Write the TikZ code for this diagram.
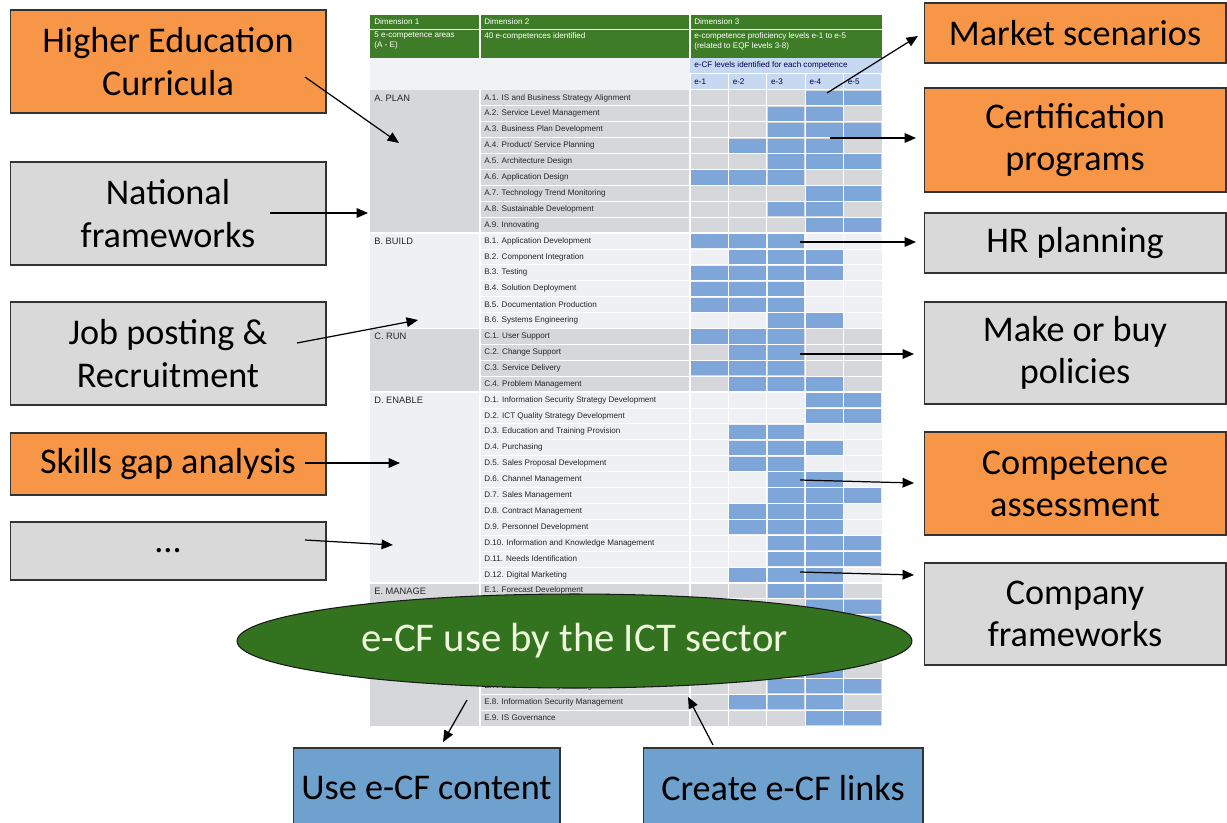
\documentclass[tikz,border=0pt]{standalone}
\usepackage{fontspec}
\setmainfont{Carlito}
\newfontfamily\tabfont{Liberation Sans}
\usetikzlibrary{arrows.meta,shapes.geometric}

\definecolor{boxorange}{HTML}{F79646}
\definecolor{boxgray}{HTML}{D9D9D9}
\definecolor{boxblue}{HTML}{6FA1CF}
\definecolor{hdrgreen}{HTML}{3F7C28}
\definecolor{ovalgreen}{HTML}{33731F}
\definecolor{ovaltext}{HTML}{EEF6DC}
\definecolor{hdrblue}{HTML}{C6D9F0}
\definecolor{hdrpale}{HTML}{F1F2F4}
\definecolor{secgray}{HTML}{D5D7DA}
\definecolor{seclight}{HTML}{EEF0F3}
\definecolor{cellblue}{HTML}{7EA6D8}

\tikzset{
  box/.style={draw=black!80, line width=0.6pt, align=center, inner sep=0pt,
    font=\fontsize{20.6}{24}\selectfont},
  orangebox/.style={box, fill=boxorange},
  graybox/.style={box, fill=boxgray},
  bluebox/.style={box, fill=boxblue},
  hdrtext/.style={anchor=west, text=white, inner sep=0pt, align=left,
    font=\tabfont\fontsize{4.6}{5.6}\selectfont},
  seclabel/.style={anchor=west, inner sep=0pt, text=black!85,
    font=\tabfont\fontsize{5.3}{6}\selectfont},
  rowlabel/.style={anchor=west, inner sep=0pt, text=black!85,
    font=\tabfont\fontsize{4.6}{5.5}\selectfont},
  arr/.style={-{Triangle[length=6.5pt,width=5.5pt]}, line width=0.7pt},
}

\begin{document}
\begin{tikzpicture}[x=0.02cm, y=-0.02cm]
\useasboundingbox (0,0) rectangle (1227,822);
\fill[white] (0,0) rectangle (1227,822);

% ---- e-CF table ----
\def\rh{15.9}
\def\cw{38.4}
% header rows
\fill[hdrgreen] (370,15) rectangle (882,58);
\draw[white, line width=0.5pt] (370,29.5) -- (882,29.5);
\foreach \xx in {480,690}
  \draw[white, line width=0.6pt] (\xx,15) -- (\xx,58);
\fill[hdrpale] (370,58) rectangle (690,90);
\fill[hdrblue] (690,58) rectangle (882,72.6);
\node[hdrtext] (dim1) at (374,22) {Dimension 1};
\node[hdrtext] (dim2) at (484,22) {Dimension 2};
\node[hdrtext] (dim3) at (694,22) {Dimension 3};
\node[hdrtext, anchor=north west] (areas) at (374,32) {5 e-competence areas\\(A - E)};
\node[hdrtext, anchor=north west] (comps) at (484,32) {40 e-competences identified};
\node[hdrtext, anchor=north west] (profs) at (694,32) {e-competence proficiency levels e-1 to e-5\\(related to EQF levels 3-8)};
\node[hdrtext, text=blue!35!black] (ident) at (694,65.5) {e-CF levels identified for each competence};
\foreach \k in {1,...,5} {
  \fill[hdrblue] ({690+(\k-1)*\cw+0.6},73.6) rectangle ({690+\k*\cw-0.6},89.4);
  \node[hdrtext, text=blue!35!black] (lev\k) at ({690+(\k-1)*\cw+4},81.5) {e-\k};
}

% competence areas
\foreach \first/\last/\col in {0/9/secgray,9/15/seclight,15/19/secgray,19/31/seclight,31/40/secgray}
  \fill[\col] (370,{90+\first*\rh}) rectangle (882,{90+\last*\rh});
\foreach \first/\name in {0/A. PLAN,9/B. BUILD,15/C. RUN,19/D. ENABLE,31/E. MANAGE}
  \node[seclabel] (sec\first) at (374,{90+(\first+0.5)*\rh}) {\name};

% competences with their levels (E.2 to E.6 sit under the oval)
\foreach \lab/\lo/\hi [count=\n from 0] in {
  A.1. IS and Business Strategy Alignment/4/5,
  A.2. Service Level Management/3/4,
  A.3. Business Plan Development/3/5,
  {A.4. Product/ Service Planning}/2/4,
  A.5. Architecture Design/3/5,
  A.6. Application Design/1/3,
  A.7. Technology Trend Monitoring/4/5,
  A.8. Sustainable Development/3/4,
  A.9. Innovating/4/5,
  B.1. Application Development/1/3,
  B.2. Component Integration/2/4,
  B.3. Testing/1/4,
  B.4. Solution Deployment/1/3,
  B.5. Documentation Production/1/3,
  B.6. Systems Engineering/3/4,
  C.1. User Support/1/3,
  C.2. Change Support/2/3,
  C.3. Service Delivery/1/3,
  C.4. Problem Management/2/4,
  D.1. Information Security Strategy Development/4/5,
  D.2. ICT Quality Strategy Development/4/5,
  D.3. Education and Training Provision/2/3,
  D.4. Purchasing/2/4,
  D.5. Sales Proposal Development/2/3,
  D.6. Channel Management/3/4,
  D.7. Sales Management/3/5,
  D.8. Contract Management/2/4,
  D.9. Personnel Development/2/4,
  D.10. Information and Knowledge Management/3/5,
  D.11. Needs Identification/3/5,
  D.12. Digital Marketing/2/4,
  E.1. Forecast Development/3/4,
  {}/4/5,
  {}/3/5,
  {}/3/4,
  {}/3/4,
  {}/2/4,
  E.7. Business Change Management/3/5,
  E.8. Information Security Management/2/4,
  E.9. IS Governance/4/5} {
  \node[rowlabel] (row\n) at (484,{90+(\n+0.5)*\rh}) {\lab};
  \foreach \k in {\lo,...,\hi}
    \fill[cellblue] ({690+(\k-1)*\cw+0.8},{90+\n*\rh+0.8})
      rectangle ({690+\k*\cw-0.8},{90+(\n+1)*\rh-0.8});
}
% white grid
\foreach \n in {1,...,39}
  \draw[white, line width=0.5pt] (480,{90+\n*\rh}) -- (882,{90+\n*\rh});
\foreach \n in {9,15,19,31}
  \draw[white, line width=0.8pt] (370,{90+\n*\rh}) -- (882,{90+\n*\rh});
\foreach \xx in {480,690}
  \draw[white, line width=0.8pt] (\xx,90) -- (\xx,726);
\foreach \k in {1,...,4}
  \draw[white, line width=0.6pt] ({690+\k*\cw},73) -- ({690+\k*\cw},726);

% ---- boxes around the table ----
\node[orangebox, minimum width=6.32cm, minimum height=2.06cm] (hec) at (168,61.5) {Higher Education\\Curricula};
\node[graybox, minimum width=6.32cm, minimum height=2.06cm] (nat) at (168,213.5) {National\\frameworks};
\node[graybox, minimum width=6.32cm, minimum height=2.06cm] (job) at (168,353.5) {Job posting \&\\Recruitment};
\node[orangebox, minimum width=6.32cm, minimum height=1.24cm] (gap) at (168,464) {Skills gap analysis};
\node[graybox, minimum width=6.32cm, minimum height=1.16cm] (etc) at (168,551) {...};

\node[orangebox, minimum width=6.04cm, minimum height=1.2cm] (mkt) at (1075,33) {Market scenarios};
\node[orangebox, minimum width=6.04cm, minimum height=2.08cm] (cert) at (1075,140) {Certification\\programs};
\node[graybox, minimum width=6.04cm, minimum height=1.2cm] (hr) at (1075,243) {HR planning};
\node[graybox, minimum width=6.04cm, minimum height=2.04cm] (mob) at (1075,353) {Make or buy\\policies};
\node[orangebox, minimum width=6.04cm, minimum height=2.06cm] (comp) at (1075,483.5) {Competence\\assessment};
\node[graybox, minimum width=6.04cm, minimum height=2.04cm] (corp) at (1075,614) {Company\\frameworks};

\node[bluebox, minimum width=5.34cm, minimum height=1.6cm] (use) at (426.5,788) {Use e-CF content};
\node[bluebox, minimum width=5.6cm, minimum height=1.6cm] (lnk) at (783,788) {Create e-CF links};

% ---- the ICT sector oval ----
\node[ellipse, draw=black!90, line width=0.6pt, fill=ovalgreen, text=ovaltext,
  minimum width=13.5cm, minimum height=1.88cm, inner sep=0pt,
  font=\fontsize{23.2}{27}\selectfont] (ict) at (574.5,641) {e-CF use by the ICT sector};

% ---- connectors ----
\foreach \nm/\ax/\ay/\bx/\by in {
  hec/305/77/399/143, nat/270/213/368/213, job/297/343/418/320,
  gap/305/463/400/463, etc/305/540/393/545,
  mkt/827/93/918/36, cert/830/138/916/138, hr/800/242/916/242,
  mob/800/354/914/354, comp/800/480/914/483, corp/800/572/914/575,
  use/467/700/443/742, lnk/713/745/688/697} {
  \coordinate (\nm-a) at (\ax,\ay);
  \coordinate (\nm-b) at (\bx,\by);
  \draw[arr] (\nm-a) -- (\nm-b);
}
\end{tikzpicture}
\end{document}
